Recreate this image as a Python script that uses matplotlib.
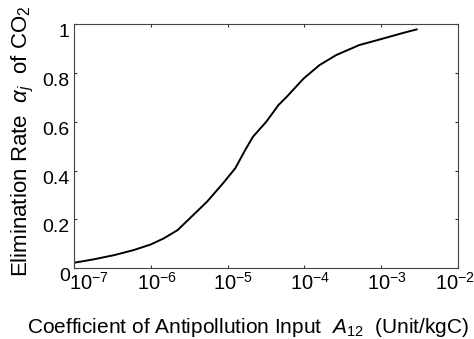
import numpy as np
import matplotlib
matplotlib.use('Agg')
from matplotlib import pyplot as plt
from matplotlib.transforms import ScaledTranslation

plt.rcParams['font.family'] = ['Liberation Sans', 'DejaVu Sans']
plt.rcParams['mathtext.fontset'] = 'custom'
plt.rcParams['mathtext.rm'] = 'Liberation Sans'
plt.rcParams['mathtext.it'] = 'Liberation Sans:italic'

# coefficient of antipollution input A12 and elimination rate alpha_j
a12 = [1e-7, 1.8e-7, 3.3e-7, 6.0e-7, 1e-6, 1.48e-6, 2.24e-6, 3.3e-6,
       5.4e-6, 8.7e-6, 1.26e-5, 1.7e-5, 2.14e-5, 3.2e-5, 4.6e-5, 5.9e-5,
       9.8e-5, 1.58e-4, 2.6e-4, 5.2e-4, 1.07e-3, 1.95e-3, 2.9e-3]
alpha = [0.022, 0.036, 0.053, 0.074, 0.097, 0.122, 0.156, 0.207,
         0.272, 0.347, 0.409, 0.484, 0.538, 0.600, 0.668, 0.702,
         0.777, 0.832, 0.873, 0.914, 0.941, 0.964, 0.978]

xticks = [1e-7, 1e-6, 1e-5, 1e-4, 1e-3, 1e-2]
xticklabels = ['$10^{-7}$', '$10^{-6}$', '$10^{-5}$', '$10^{-4}$', '$10^{-3}$', '$10^{-2}$']
yticks = [0, 0.2, 0.4, 0.6, 0.8, 1]
yticklabels = ['0', '0.2', '0.4', '0.6', '0.8', '1']

fig = plt.figure(figsize=(4.74, 3.39), dpi=100)
ax = fig.add_axes([0.156, 0.209, 0.81, 0.72])

ax.plot(a12, alpha, color='black', lw=1.4)

ax.set_xscale('log')
ax.set_xlim(1e-7, 1e-2)
ax.set_ylim(0, 1)
ax.minorticks_off()
ax.set_xticks(xticks)
ax.set_xticklabels(xticklabels, fontsize=14.5)
ax.set_yticks(yticks)
ax.set_yticklabels(yticklabels, fontsize=14)
ax.tick_params(direction='in', length=2.5, width=0.8, top=True, right=True,
               color='#333333')
ax.tick_params(axis='x', pad=3)
ax.tick_params(axis='y', pad=3)

for sp in ax.spines.values():
    sp.set_linewidth(0.8)
    sp.set_color('#444444')

# matlab-like label placement
shifts = [15, 6, 6, 6, 6, -3]
for lab, dx in zip(ax.get_xticklabels(), shifts):
    lab.set_transform(lab.get_transform() + ScaledTranslation(dx / 100, 0, fig.dpi_scale_trans))
for lab in ax.get_yticklabels():
    lab.set_verticalalignment('top')

ax.set_xlabel('Coefficient of Antipollution Input  $A_{12}$  (Unit/kgC)', fontsize=15)
ax.set_ylabel(r'Elimination Rate  $\alpha_j$  of CO$_2$', fontsize=16)
ax.xaxis.label.set_horizontalalignment('left')
ax.xaxis.label.set_verticalalignment('baseline')
ax.yaxis.label.set_verticalalignment('baseline')
ax.xaxis.set_label_coords(-0.122, -0.266)
ax.yaxis.set_label_coords(-0.122, 0.52)

fig.savefig('out.png', dpi=100)
